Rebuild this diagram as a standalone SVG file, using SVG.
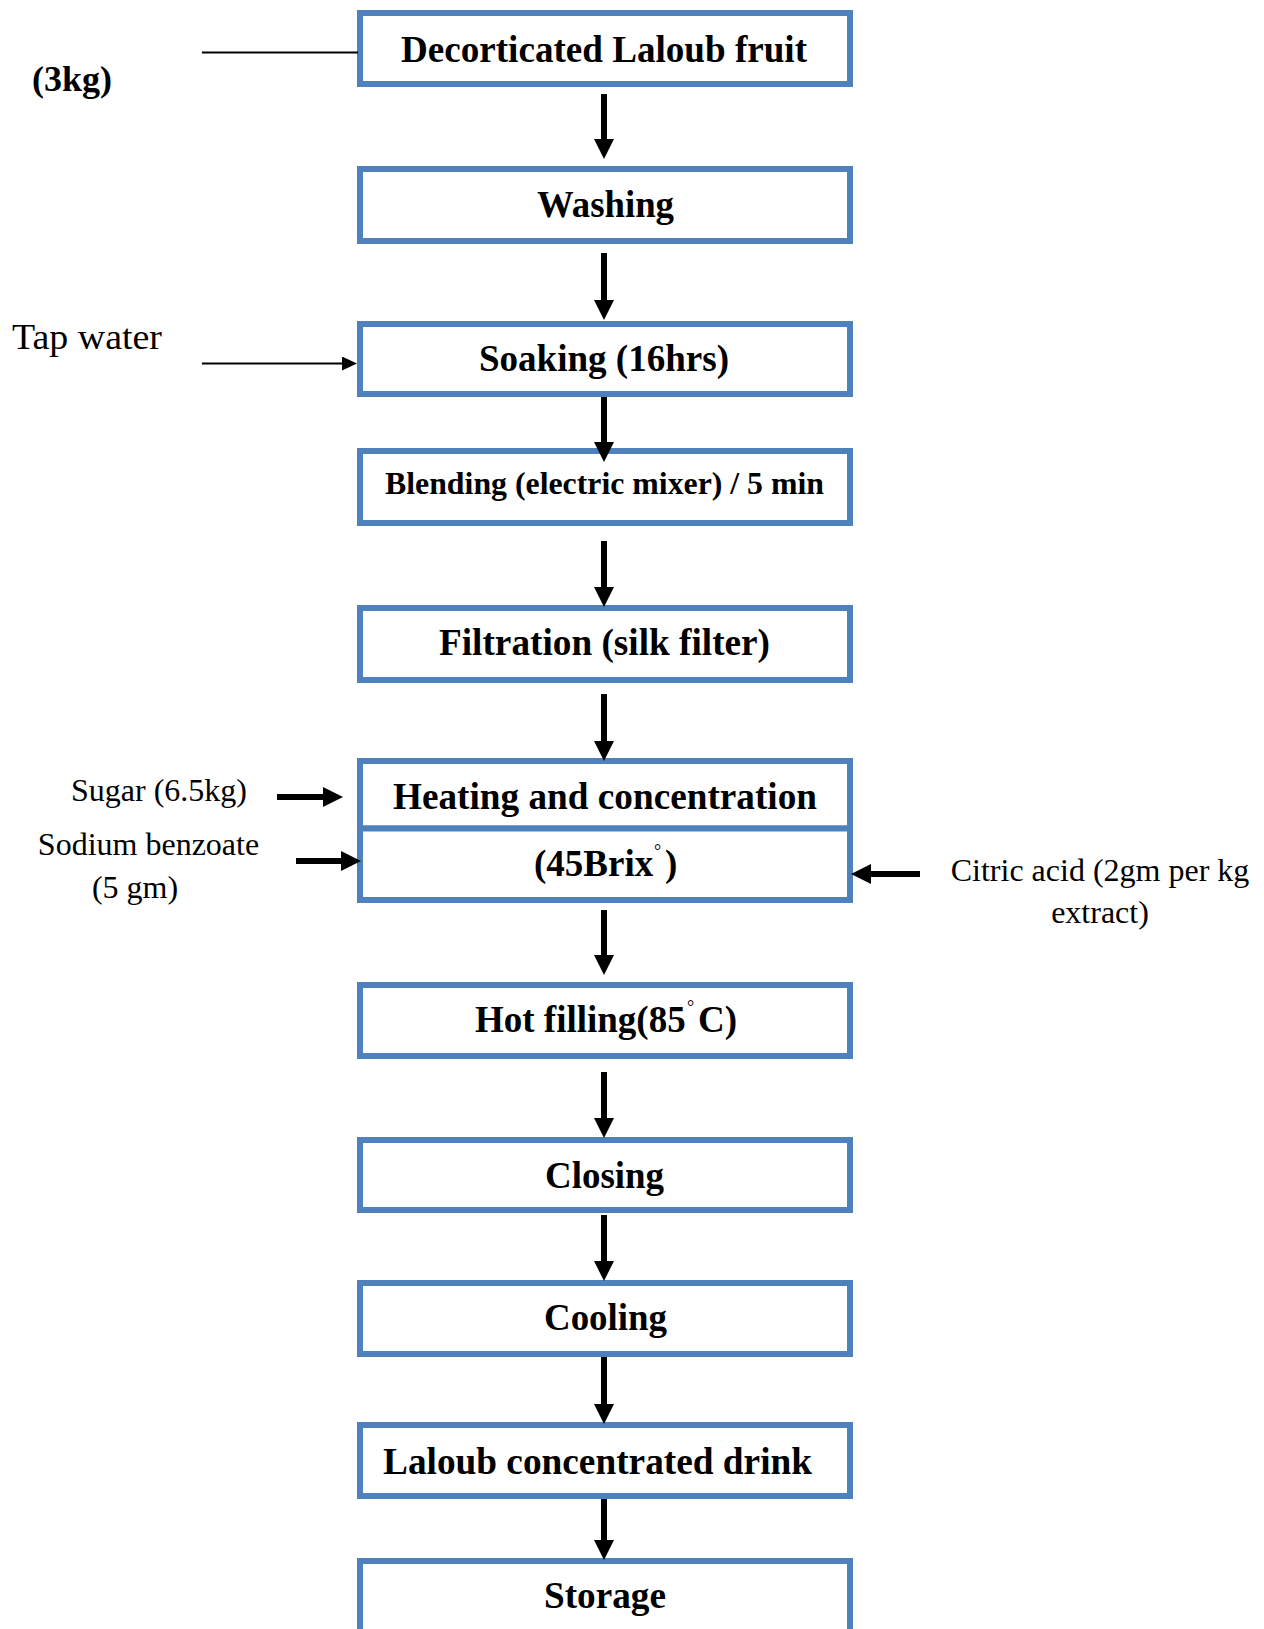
<svg xmlns="http://www.w3.org/2000/svg" width="1264" height="1629" viewBox="0 0 1264 1629">
<style>
.box{fill:#fff;stroke:#4F81BD;stroke-width:6}
.t{font-family:"Liberation Serif","Times New Roman",serif;font-weight:bold;font-size:37px;fill:#000}
.n{font-family:"Liberation Serif","Times New Roman",serif;font-size:32px;fill:#000}
.flow{stroke:#000;stroke-width:6;fill:none;marker-end:url(#ah)}
.thin{stroke:#000;stroke-width:2;fill:none}
</style>
<defs>
<marker id="ah" markerUnits="userSpaceOnUse" markerWidth="20" markerHeight="20" refX="2" refY="10" orient="auto">
<path d="M0,0 L20,10 L0,20 z" fill="#000"/>
</marker>
<marker id="ahs" markerUnits="userSpaceOnUse" markerWidth="16" markerHeight="14" refX="1" refY="7" orient="auto">
<path d="M0,0 L15,7 L0,14 z" fill="#000"/>
</marker>
</defs>
<rect width="1264" height="1629" fill="#fff"/>

<g id="n1"><rect class="box" x="360" y="13" width="490" height="71"/><text class="t" x="401" y="62" style="font-size:38px" textLength="406" lengthAdjust="spacingAndGlyphs">Decorticated Laloub fruit</text></g>
<g id="n2"><rect class="box" x="360" y="169" width="490" height="72"/><text class="t" x="537" y="217" textLength="137" lengthAdjust="spacingAndGlyphs">Washing</text></g>
<g id="n3"><rect class="box" x="360" y="324" width="490" height="70"/><text class="t" x="479" y="371" textLength="250" lengthAdjust="spacingAndGlyphs">Soaking (16hrs)</text></g>
<g id="n4"><rect class="box" x="360" y="451" width="490" height="72"/><text class="t" x="385" y="494" style="font-size:32px" textLength="439" lengthAdjust="spacingAndGlyphs">Blending (electric mixer) / 5 min</text></g>
<g id="n5"><rect class="box" x="360" y="608" width="490" height="72"/><text class="t" x="439" y="655" textLength="331" lengthAdjust="spacingAndGlyphs">Filtration (silk filter)</text></g>
<g id="n6">
<rect class="box" x="360" y="761" width="490" height="67.5"/>
<rect class="box" x="360" y="828.5" width="490" height="71.5"/>
<text class="t" x="393" y="809" textLength="424" lengthAdjust="spacingAndGlyphs">Heating and concentration</text>
<text class="t" x="534" y="876">(45Brix<tspan x="654" y="857" style="font-size:18px;font-weight:normal">°</tspan><tspan x="665" y="876">)</tspan></text>
</g>
<g id="n7"><rect class="box" x="360" y="985" width="490" height="71"/><text class="t" x="475" y="1032">Hot filling(85<tspan x="687" y="1013" style="font-size:18px;font-weight:normal">°</tspan><tspan x="698" y="1032">C)</tspan></text></g>
<g id="n8"><rect class="box" x="360" y="1140" width="490" height="70"/><text class="t" x="545" y="1188" textLength="119" lengthAdjust="spacingAndGlyphs">Closing</text></g>
<g id="n9"><rect class="box" x="360" y="1283" width="490" height="71"/><text class="t" x="544" y="1330" textLength="123" lengthAdjust="spacingAndGlyphs">Cooling</text></g>
<g id="n10"><rect class="box" x="360" y="1425" width="490" height="71"/><text class="t" x="383" y="1474" textLength="429" lengthAdjust="spacingAndGlyphs">Laloub concentrated drink</text></g>
<g id="n11"><rect class="box" x="360" y="1561" width="490" height="100"/><text class="t" x="544" y="1608" textLength="122" lengthAdjust="spacingAndGlyphs">Storage</text></g>

<g id="connectors">
<line class="flow" x1="604" y1="94" x2="604" y2="141"/>
<line class="flow" x1="604" y1="253" x2="604" y2="302"/>
<line class="flow" x1="604" y1="397" x2="604" y2="444"/>
<line class="flow" x1="604" y1="541" x2="604" y2="589"/>
<line class="flow" x1="604" y1="694" x2="604" y2="743"/>
<line class="flow" x1="604" y1="910" x2="604" y2="957"/>
<line class="flow" x1="604" y1="1072" x2="604" y2="1120"/>
<line class="flow" x1="604" y1="1215" x2="604" y2="1263"/>
<line class="flow" x1="604" y1="1357" x2="604" y2="1406"/>
<line class="flow" x1="604" y1="1499" x2="604" y2="1542"/>
<line class="thin" x1="202" y1="52.5" x2="358" y2="52.5"/>
<line class="thin" x1="202" y1="363.5" x2="343" y2="363.5" marker-end="url(#ahs)"/>
<line class="flow" x1="277" y1="797" x2="325" y2="797"/>
<line class="flow" x1="296" y1="861" x2="343" y2="861"/>
<line class="flow" x1="920" y1="874" x2="869" y2="874"/>
</g>

<g id="labels">
<text class="t" x="32" y="91" style="font-size:36px">(3kg)</text>
<text class="n" x="12" y="349" style="font-size:35px" textLength="150" lengthAdjust="spacingAndGlyphs">Tap water</text>
<text class="n" x="71" y="801">Sugar (6.5kg)</text>
<text class="n" x="148.5" y="855" text-anchor="middle">Sodium benzoate</text>
<text class="n" x="135" y="898" text-anchor="middle">(5 gm)</text>
<text class="n" x="1100" y="881" text-anchor="middle">Citric acid (2gm per kg</text>
<text class="n" x="1100" y="923" text-anchor="middle">extract)</text>
</g>
</svg>
